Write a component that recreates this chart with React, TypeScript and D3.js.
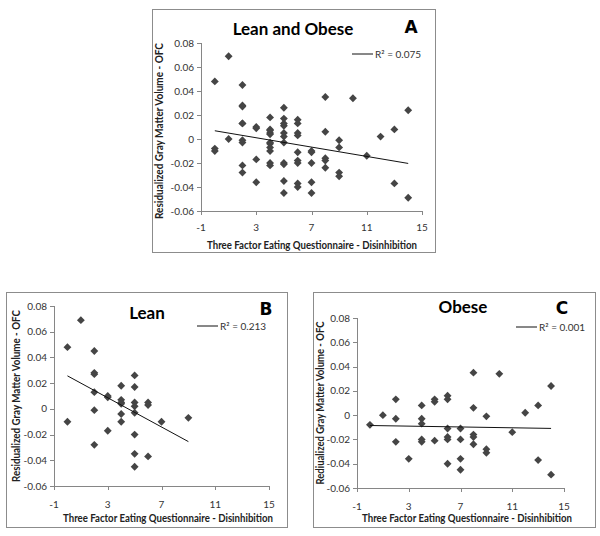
import React from 'react';
import * as d3 from 'd3';

// ---- data ----
const leanX = [0, 0, 1, 2, 2, 2, 2, 2, 2, 3, 3, 3, 4, 4, 4, 4, 4, 4, 5, 5, 5, 5, 5, 5, 5, 5, 6, 6, 6, 7, 9];
const leanY = [0.048, -0.010, 0.069, 0.045, 0.028, 0.027, 0.013, -0.001, -0.028, 0.010, 0.009, -0.017, 0.018, 0.007, 0.005, 0.004, -0.004, -0.010, 0.026, 0.017, 0.005, 0.002, -0.003, -0.020, -0.035, -0.045, 0.005, 0.003, -0.037, -0.010, -0.007];

const obeseX = [0, 1, 2, 2, 2, 3, 4, 4, 4, 4, 4, 5, 5, 5, 6, 6, 6, 6, 6, 6, 7, 7, 7, 7, 8, 8, 8, 8, 8, 9, 9, 9, 10, 11, 12, 13, 13, 14, 14];
const obeseY = [-0.008, 0.000, 0.013, -0.003, -0.022, -0.036, 0.008, -0.003, -0.007, -0.020, -0.022, 0.013, 0.011, -0.021, 0.016, 0.013, -0.011, -0.018, -0.020, -0.040, -0.011, -0.020, -0.036, -0.045, 0.035, 0.006, -0.016, -0.018, -0.024, -0.001, -0.028, -0.031, 0.034, -0.014, 0.002, 0.008, -0.037, 0.024, -0.049];

const allX = leanX.concat(obeseX);
const allY = leanY.concat(obeseY);

const xTicks = [-1, 3, 7, 11, 15];
const yTicks = [-0.06, -0.04, -0.02, 0, 0.02, 0.04, 0.06, 0.08];
const xDomain = [-1, 15];
const yDomain = [-0.06, 0.08];

const panelTitles = ['Lean and Obese', 'Lean', 'Obese'];
const panelLetters = ['A', 'B', 'C'];
const r2Labels = ['R\u00B2 = 0.075', 'R\u00B2 = 0.213', 'R\u00B2 = 0.001'];
const yTitles = [
  'Residualized Gray Matter Volume  - OFC',
  'Residualized Gray Matter Volume - OFC',
  'Rediualized Gray Matter Volume - OFC',
];
const xTitle = 'Three Factor Eating Questionnaire - Disinhibition';

// ---- layout ----
const layouts = [
  { bx: 152, by: 9, bw: 283, bh: 243, px0: 201, px1: 422, py0: 43, py1: 211, titleX: 293, titleY: 35, letterX: 411, letterY: 33, legX: 352, legY: 54, yTitleX: 163, yTitleC: 131, yTitleLen: 176, xTitleX: 312, xTitleY: 249, xLabY: 231 },
  { bx: 6, by: 292, bw: 281, bh: 235, px0: 54, px1: 269, py0: 306, py1: 486, titleX: 147, titleY: 319, letterX: 266, letterY: 315, legX: 197, legY: 326, yTitleX: 20, yTitleC: 396, yTitleLen: 172, xTitleX: 168, xTitleY: 522, xLabY: 508 },
  { bx: 313, by: 292, bw: 282, bh: 235, px0: 357, px1: 564, py0: 318, py1: 488, titleX: 463, titleY: 313, letterX: 562, letterY: 314, legX: 516, legY: 327, yTitleX: 324, yTitleC: 403, yTitleLen: 163, xTitleX: 467, xTitleY: 522, xLabY: 510 },
];
const xTitleLen = 210;

const FONT = 'Lato, "Open Sans", sans-serif';
const AXIS_COLOR = '#868686';
const MARK_COLOR = '#454545';

function fmtY(v: number) {
  if (Math.abs(v) < 1e-9) return '0';
  return v.toFixed(2);
}

function Panel({ idx, xs, ys }: { idx: number; xs: number[]; ys: number[] }) {
  const L = layouts[idx];
  const x = d3.scaleLinear().domain(xDomain).range([L.px0, L.px1]);
  const y = d3.scaleLinear().domain(yDomain).range([L.py1, L.py0]);

  const mx = d3.mean(xs) as number;
  const my = d3.mean(ys) as number;
  let sxy = 0;
  let sxx = 0;
  xs.forEach((xv, i) => {
    sxy += (xv - mx) * (ys[i] - my);
    sxx += (xv - mx) * (xv - mx);
  });
  const slope = sxy / sxx;
  const icpt = my - slope * mx;
  const [xmin, xmax] = d3.extent(xs) as [number, number];
  const line = d3.line<number>().x((d) => x(d)).y((d) => y(icpt + slope * d));
  const marker = d3.symbol().type(d3.symbolSquare).size(31)() as string;

  return (
    <g>
      <rect x={L.bx + 0.5} y={L.by + 0.5} width={L.bw} height={L.bh} fill="#fff" stroke="#8c8c8c" strokeWidth={1} />
      {/* axes */}
      <line x1={L.px0 + 0.5} x2={L.px0 + 0.5} y1={L.py0} y2={L.py1} stroke={AXIS_COLOR} />
      <line x1={L.px0} x2={L.px1} y1={L.py1 + 0.5} y2={L.py1 + 0.5} stroke={AXIS_COLOR} />
      {yTicks.map((t) => (
        <g key={'y' + t}>
          <line x1={L.px0 - 4} x2={L.px0} y1={Math.round(y(t)) + 0.5} y2={Math.round(y(t)) + 0.5} stroke={AXIS_COLOR} />
          <text x={L.px0 - 7} y={y(t)} dy="0.35em" textAnchor="end" fontFamily={FONT} fontSize={10} fill="#333">
            {fmtY(t)}
          </text>
        </g>
      ))}
      {xTicks.map((t) => (
        <g key={'x' + t}>
          <line x1={Math.round(x(t)) + 0.5} x2={Math.round(x(t)) + 0.5} y1={L.py1} y2={L.py1 + 4} stroke={AXIS_COLOR} />
          <text x={x(t)} y={L.xLabY} textAnchor="middle" fontFamily={FONT} fontSize={10} fill="#333">
            {t}
          </text>
        </g>
      ))}
      {/* points */}
      {xs.map((xv, i) => (
        <path key={i} d={marker} transform={`translate(${x(xv)},${y(ys[i])}) rotate(45)`} fill={MARK_COLOR} />
      ))}
      {/* trend line */}
      <path d={line([xmin, xmax]) as string} fill="none" stroke="#111" strokeWidth={1} />
      {/* legend */}
      <line x1={L.legX} x2={L.legX + 21} y1={L.legY} y2={L.legY} stroke="#111" strokeWidth={1} />
      <text x={L.legX + 23} y={L.legY} dy="0.35em" fontFamily={FONT} fontSize={10} fill="#333">
        {r2Labels[idx]}
      </text>
      {/* titles */}
      <text x={L.titleX} y={L.titleY} textAnchor="middle" fontFamily={FONT} fontWeight="bold" fontSize={17} fill="#000">
        {panelTitles[idx]}
      </text>
      <text x={L.letterX} y={L.letterY} textAnchor="middle" fontFamily='"DejaVu Sans", sans-serif' fontWeight="bold" fontSize={17} fill="#000">
        {panelLetters[idx]}
      </text>
      <text
        transform={`translate(${L.yTitleX},${L.yTitleC}) rotate(-90)`}
        textAnchor="middle"
        fontFamily={FONT}
        fontWeight="bold"
        fontSize={10.5}
        fill="#222"
        textLength={L.yTitleLen}
        lengthAdjust="spacingAndGlyphs"
      >
        {yTitles[idx]}
      </text>
      <text
        x={L.xTitleX}
        y={L.xTitleY}
        textAnchor="middle"
        fontFamily={FONT}
        fontWeight="bold"
        fontSize={10.5}
        fill="#222"
        textLength={xTitleLen}
        lengthAdjust="spacingAndGlyphs"
      >
        {xTitle}
      </text>
    </g>
  );
}

export default function App() {
  return (
    <svg width={600} height={536} style={{ position: 'absolute', left: 0, top: 0, background: '#fff' }}>
      <rect x={0} y={0} width={600} height={536} fill="#fff" />
      <Panel idx={0} xs={allX} ys={allY} />
      <Panel idx={1} xs={leanX} ys={leanY} />
      <Panel idx={2} xs={obeseX} ys={obeseY} />
    </svg>
  );
}
